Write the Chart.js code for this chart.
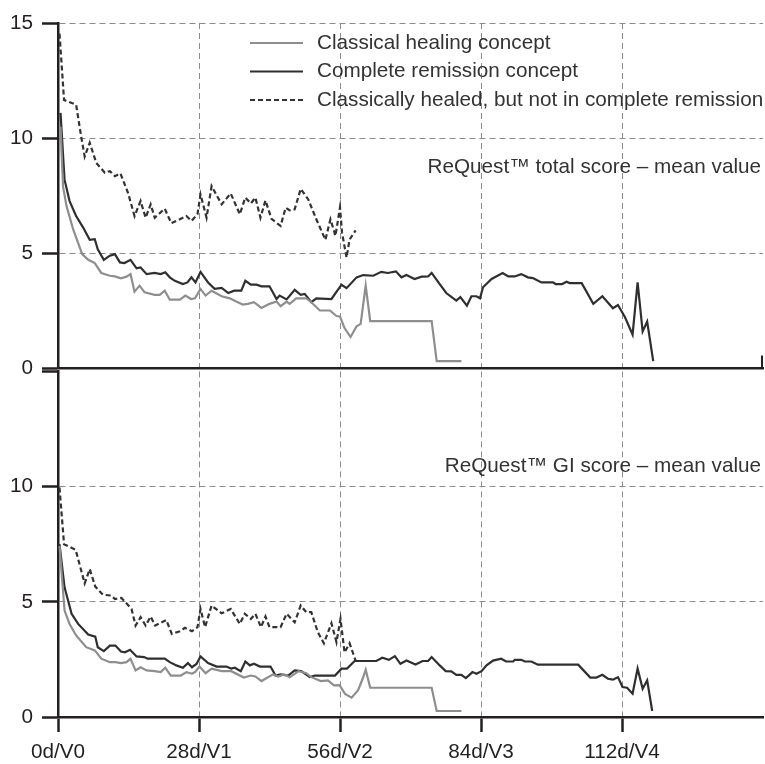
<!DOCTYPE html>
<html>
<head>
<meta charset="utf-8">
<script src="https://cdn.jsdelivr.net/npm/chart.js@4"></script>
<style>
  html, body { margin: 0; padding: 0; background: #fff; }
  #wrap { position: relative; width: 765px; height: 764px; overflow: hidden; }
  #wrap canvas { position: absolute; left: 0; }
</style>
</head>
<body>
<div id="wrap">
  <canvas id="topChart" width="765" height="390" style="top:0"></canvas>
  <canvas id="bottomChart" width="765" height="414" style="top:350px"></canvas>
</div>
<script>
(function () {
  'use strict';

  /* global Chart */

  // --- data: [day, mean score] ---
  var seriesLabels = [
    'Classical healing concept',
    'Complete remission concept',
    'Classically healed, but not in complete remission'
  ];
  var panelTitles = ['ReQuest\u2122 total score \u2013 mean value', 'ReQuest\u2122 GI score \u2013 mean value'];
  var xTickValues = [0, 28, 56, 84, 112];
  var xTickLabels = ['0d/V0', '28d/V1', '56d/V2', '84d/V3', '112d/V4'];
  var yTickValuesTop = [0, 5, 10, 15];
  var yTickValuesBottom = [0, 5, 10];

  var healTotal = [[0.5,10.5],[1,7.9],[1.7,7.05],[3,6.05],[4.8,4.97],[6,4.72],[7.3,4.58],[8.6,4.15],[10.3,4.03],[11.3,4.0],[12.5,3.92],[13.6,3.99],[14.4,4.1],[15.2,3.34],[16.2,3.6],[17.2,3.31],[19.2,3.2],[20.2,3.2],[21.2,3.38],[22.2,2.99],[24.2,2.99],[25.3,3.17],[26.4,3.02],[27.2,3.05],[28.3,3.46],[29.3,3.17],[30.5,3.38],[32.5,3.14],[34.1,3.05],[35.4,2.91],[36.7,2.78],[37.7,2.81],[38.9,2.88],[40.4,2.63],[42,2.81],[43.4,2.91],[44.2,2.71],[45.4,2.91],[46,2.81],[47.3,3.05],[49.3,3.05],[50.3,2.88],[52,2.52],[54,2.52],[55.3,2.28],[56,2.26],[56.9,1.76],[58.1,1.37],[59.3,1.84],[60.1,1.94],[61.1,3.6],[62,2.06],[74.2,2.06],[75.2,0.32],[80.1,0.32]];
  var remTotal = [[0.5,11.1],[1.3,8.2],[2.3,7.27],[3.6,6.62],[5,6.12],[6.3,5.59],[7.3,5.62],[7.9,5.18],[9.1,4.72],[10.3,4.9],[11.3,4.97],[12.3,4.61],[13.2,4.58],[14.4,4.72],[15.6,4.35],[16.4,4.39],[17.6,4.1],[19.2,4.15],[20.4,4.1],[21.3,4.18],[22.2,3.96],[23.2,3.81],[24.8,3.67],[25.7,3.74],[26.5,3.96],[27.3,3.74],[28.3,4.2],[29.8,3.74],[31.1,3.46],[32.5,3.5],[33.8,3.28],[35,3.38],[36.4,3.38],[37.2,3.81],[38.3,3.64],[39.4,3.64],[40.4,3.57],[42,3.57],[43.4,3.02],[44,3.17],[45.4,3.0],[47,3.42],[48.2,3.2],[49,3.24],[50.3,2.88],[51.3,3.05],[54.3,3.02],[56.3,3.64],[57.3,3.49],[59.3,3.96],[60.6,4.06],[62.6,4.03],[64.2,4.2],[65.5,4.15],[67.1,4.22],[68.2,3.96],[69.2,4.06],[70.8,3.89],[72.2,3.99],[73.5,4.0],[74.2,4.15],[75.8,3.67],[77.1,3.28],[79.1,2.95],[79.9,3.1],[81.2,2.73],[82.1,3.14],[83.1,3.14],[83.8,3.05],[84.4,3.53],[86.1,3.89],[88.3,4.15],[89.4,4.0],[90.7,4.0],[92,4.1],[93.3,3.96],[94.3,3.93],[96,3.74],[98.3,3.74],[98.8,3.67],[100.1,3.67],[101,3.77],[101.6,3.71],[104,3.71],[106.3,2.81],[108.1,3.14],[110.2,2.62],[111.2,2.76],[112.6,2.23],[114.1,1.47],[115.1,3.74],[116.1,1.61],[117,2.04],[118.2,0.32]];
  var gapTotal = [[0.3,14.54],[1.2,11.66],[3.6,11.45],[4.6,10.08],[5.3,9.2],[6.3,9.8],[7.6,8.93],[9.3,8.5],[10.3,8.57],[11.3,8.35],[12.4,8.47],[13.9,7.63],[15.2,6.62],[16.4,7.27],[17.4,6.55],[18.4,7.13],[19.2,6.55],[21.2,6.94],[22.5,6.31],[24.2,6.48],[25.5,6.62],[26.5,6.41],[27.7,6.7],[28.3,7.56],[29.5,6.55],[30.5,7.92],[32.5,7.13],[34.3,7.6],[36.1,6.7],[37.2,7.42],[38.3,7.17],[39.2,7.42],[40.2,6.55],[41.2,7.3],[42.4,6.5],[44.2,6.19],[45.2,6.98],[46,6.87],[47,6.91],[48.2,7.8],[49.7,7.34],[51.3,6.48],[53.1,5.59],[54.1,6.48],[55.1,5.76],[56,7.0],[56.4,5.9],[57.3,4.82],[57.9,5.6],[59.1,6.0]];

  var healGI = [[0.3,7.43],[1.3,4.62],[2.3,4.04],[3.6,3.54],[5.6,3.03],[7.3,2.89],[8.6,2.53],[10.3,2.38],[11.4,2.38],[12.5,2.34],[13.6,2.38],[14.4,2.53],[15.4,2.02],[16.4,2.16],[17.6,2.02],[19.2,1.99],[20.4,1.95],[21.3,2.14],[22.4,1.8],[24.4,1.8],[25.5,1.95],[26.6,1.88],[27.2,1.95],[28.1,2.19],[29.3,1.9],[30.5,2.1],[32.5,1.99],[34.4,1.99],[36.9,1.71],[38.3,1.8],[39.2,1.76],[40.4,1.56],[42.7,1.85],[43.7,1.76],[44.9,1.85],[46,1.73],[47.8,1.99],[49.3,1.9],[50.3,1.73],[52.2,1.56],[53.6,1.59],[54.8,1.37],[55.9,1.38],[57,1.0],[58.3,0.84],[59.6,1.16],[60.5,1.66],[61.1,2.05],[62,1.27],[74.2,1.27],[75.2,0.26],[80.1,0.26]];
  var remGI = [[0.3,7.5],[1.3,5.63],[2.7,4.48],[4,4.04],[6,3.58],[7.4,3.49],[7.9,3.03],[9.1,2.86],[10.3,3.1],[11.4,3.1],[12.5,2.84],[13.3,2.81],[14.3,2.92],[15.6,2.63],[17.1,2.6],[17.8,2.53],[21.2,2.53],[22.2,2.38],[23.5,2.24],[24.8,2.14],[25.8,2.34],[26.6,2.16],[27.5,2.3],[28.3,2.63],[29.8,2.34],[31.5,2.19],[33.4,2.19],[34.4,2.1],[35.1,2.14],[36.3,1.99],[37.2,2.41],[38.1,2.24],[38.9,2.31],[40.1,2.19],[42.2,2.19],[43.2,1.8],[44.2,1.85],[45.7,1.8],[47,2.02],[48.3,1.99],[50,1.73],[51,1.8],[55,1.8],[56.3,2.1],[57.4,2.1],[58.9,2.43],[63.2,2.43],[64.4,2.57],[65.7,2.48],[66.9,2.64],[68,2.31],[69.2,2.45],[71,2.28],[72.4,2.43],[73.5,2.43],[74.2,2.6],[75.8,2.24],[77,1.99],[78.1,1.98],[79.1,1.83],[80.1,1.83],[81,1.69],[82.3,1.95],[83.1,1.88],[84.1,1.99],[85.1,2.24],[86.4,2.45],[88,2.53],[89,2.41],[90.4,2.41],[90.7,2.48],[92,2.48],[92.7,2.41],[94,2.41],[95.3,2.27],[103.3,2.27],[105.7,1.71],[106.9,1.71],[108.1,1.83],[109.2,1.66],[110.2,1.62],[111.2,1.73],[112.1,1.3],[113,1.27],[114.1,1.01],[115.1,2.1],[116.1,1.23],[117,1.59],[118,0.26]];
  var gapGI = [[0.3,9.96],[1.2,7.5],[3.5,7.26],[5.3,5.8],[6.3,6.42],[7.4,5.66],[8.9,5.31],[10.6,5.27],[11.3,5.12],[12.6,5.17],[14.6,4.69],[15.4,3.97],[16.4,4.33],[17.4,3.97],[18.4,4.36],[19.3,3.97],[21.5,4.21],[22.6,3.61],[24.2,3.72],[25.2,3.87],[26.6,3.72],[27.7,3.9],[28.3,4.69],[29.2,3.9],[30.5,4.84],[32.5,4.5],[34.3,4.69],[36.1,4.04],[37.1,4.48],[38.3,4.26],[39.2,4.48],[40.3,3.9],[41.2,4.36],[42,3.9],[44.2,3.9],[45.4,4.48],[47,4.11],[48.2,4.84],[49.3,4.55],[50.3,4.55],[51.6,3.68],[52.8,3.2],[54.3,4.07],[55.3,3.25],[56.1,4.26],[56.9,2.8],[57.9,3.2],[59.1,2.45]];

  var INK = '#231f20';
  var GRID = '#8c8c8c';
  var FONT = "'Liberation Sans', Arial, Helvetica, sans-serif";
  var FONT_SIZE = 20.7;
  var seriesStyles = [
    { color: '#8e8e8e', dash: [] },
    { color: '#2f2f2f', dash: [] },
    { color: '#333333', dash: [5, 3] }
  ];

  Chart.defaults.font.family = FONT;
  Chart.defaults.font.size = FONT_SIZE;
  Chart.defaults.color = INK;

  function toXY(pairs) {
    return pairs.map(function (p) { return { x: p[0], y: p[1] }; });
  }

  function makeDatasets(list) {
    return list.map(function (pairs, i) {
      return {
        label: seriesLabels[i],
        data: toXY(pairs),
        borderColor: seriesStyles[i].color,
        borderDash: seriesStyles[i].dash,
        borderWidth: 2.2,
        pointRadius: 0,
        tension: 0,
        fill: false,
      };
    });
  }

  var legendPlugin = {
    id: 'insideLegend',
    afterDraw: function (chart, args, opts) {
      if (!opts.show) return;
      var ctx = chart.ctx;
      chart.data.datasets.forEach(function (ds, i) {
        var y = opts.y + i * opts.rowGap;
        ctx.save();
        ctx.strokeStyle = ds.borderColor;
        ctx.lineWidth = ds.borderWidth;
        ctx.setLineDash(ds.borderDash || []);
        ctx.beginPath();
        ctx.moveTo(opts.x, y);
        ctx.lineTo(opts.x + opts.lineLen, y);
        ctx.stroke();
        ctx.setLineDash([]);
        ctx.fillStyle = '#333333';
        ctx.font = FONT_SIZE + 'px ' + FONT;
        ctx.textBaseline = 'middle';
        ctx.textAlign = 'left';
        ctx.fillText(ds.label, opts.x + opts.lineLen + opts.gap, y);
        ctx.restore();
      });
    }
  };

  var panelTitlePlugin = {
    id: 'panelTitle',
    afterDraw: function (chart, args, opts) {
      var ctx = chart.ctx;
      ctx.save();
      ctx.fillStyle = '#333333';
      ctx.font = FONT_SIZE + 'px ' + FONT;
      ctx.textAlign = 'right';
      ctx.textBaseline = 'middle';
      ctx.fillText(opts.text, chart.chartArea.right - 2, opts.y);
      // small upward end cap on the x axis (top panel only)
      if (opts.endCap) {
        var xs = chart.scales.x;
        var px = xs.getPixelForValue(xs.max) - 1;
        ctx.strokeStyle = INK;
        ctx.lineWidth = 2;
        ctx.beginPath();
        ctx.moveTo(px, chart.chartArea.bottom);
        ctx.lineTo(px, chart.chartArea.bottom - 13);
        ctx.stroke();
      }
      ctx.restore();
    }
  };

  function makePanel(canvasId, datasets, cfg) {
    var ctx = document.getElementById(canvasId);
    return new Chart(ctx, {
      type: 'line',
      data: { datasets: datasets },
      options: {
        responsive: false,
        animation: false,
        devicePixelRatio: 1,
        layout: { padding: cfg.padding },
        plugins: {
          legend: { display: false },
          tooltip: { enabled: false },
          insideLegend: { show: cfg.legend, x: 250, y: 43, rowGap: 28.5, lineLen: 53, gap: 14 },
          panelTitle: { text: cfg.title, y: cfg.titleY, endCap: cfg.endCap },
        },
        scales: {
          x: {
            type: 'linear',
            min: 0,
            max: 140,
            afterBuildTicks: function (s) {
              s.ticks = xTickValues.map(function (v) { return { value: v }; });
            },
            afterFit: function (s) { s.height = cfg.xHeight; },
            ticks: {
              display: cfg.xLabels,
              autoSkip: false,
              maxRotation: 0,
              padding: 8,
              color: INK,
              callback: function (v) {
                var i = xTickValues.indexOf(v);
                return i >= 0 ? xTickLabels[i] : '';
              },
            },
            grid: {
              color: function (c) { return c.tick && c.tick.value === 0 ? 'rgba(0,0,0,0)' : GRID; },
              lineWidth: 1,
              drawTicks: cfg.xLabels,
              tickLength: 15,
              tickColor: INK,
              tickWidth: 2.5,
            },
            border: { color: INK, width: 2.5, dash: [6, 4] },
          },
          y: {
            min: 0,
            max: 15,
            afterBuildTicks: function (s) {
              s.ticks = [0, 5, 10, 15].map(function (v) { return { value: v }; });
            },
            afterFit: function (s) { s.width = 58; },
            ticks: {
              padding: 9,
              color: INK,
              callback: function (v) { return cfg.yTicks.indexOf(v) >= 0 ? String(v) : ''; },
            },
            grid: {
              color: function (c) {
                var v = c.tick ? c.tick.value : 0;
                return cfg.yTicks.indexOf(v) >= 0 && v !== 0 ? GRID : 'rgba(0,0,0,0)';
              },
              lineWidth: 1,
              tickLength: 16,
              tickColor: INK,
              tickWidth: 2.5,
            },
            border: { color: INK, width: 2.5, dash: [6, 4] },
          },
        },
      },
      plugins: [legendPlugin, panelTitlePlugin],
    });
  }

  makePanel('topChart', makeDatasets([healTotal, remTotal, gapTotal]), {
    padding: { top: 23, right: 2, bottom: 20, left: 0 },
    xHeight: 0,
    xLabels: false,
    yTicks: yTickValuesTop,
    legend: true,
    title: panelTitles[0],
    titleY: 167,
    endCap: true,
  });

  makePanel('bottomChart', makeDatasets([healGI, remGI, gapGI]), {
    padding: { top: 20, right: 2, bottom: 0, left: 0 },
    xHeight: 47,
    xLabels: true,
    yTicks: yTickValuesBottom,
    legend: false,
    title: panelTitles[1],
    titleY: 116,
    endCap: false,
  });
})();
</script>
</body>
</html>
